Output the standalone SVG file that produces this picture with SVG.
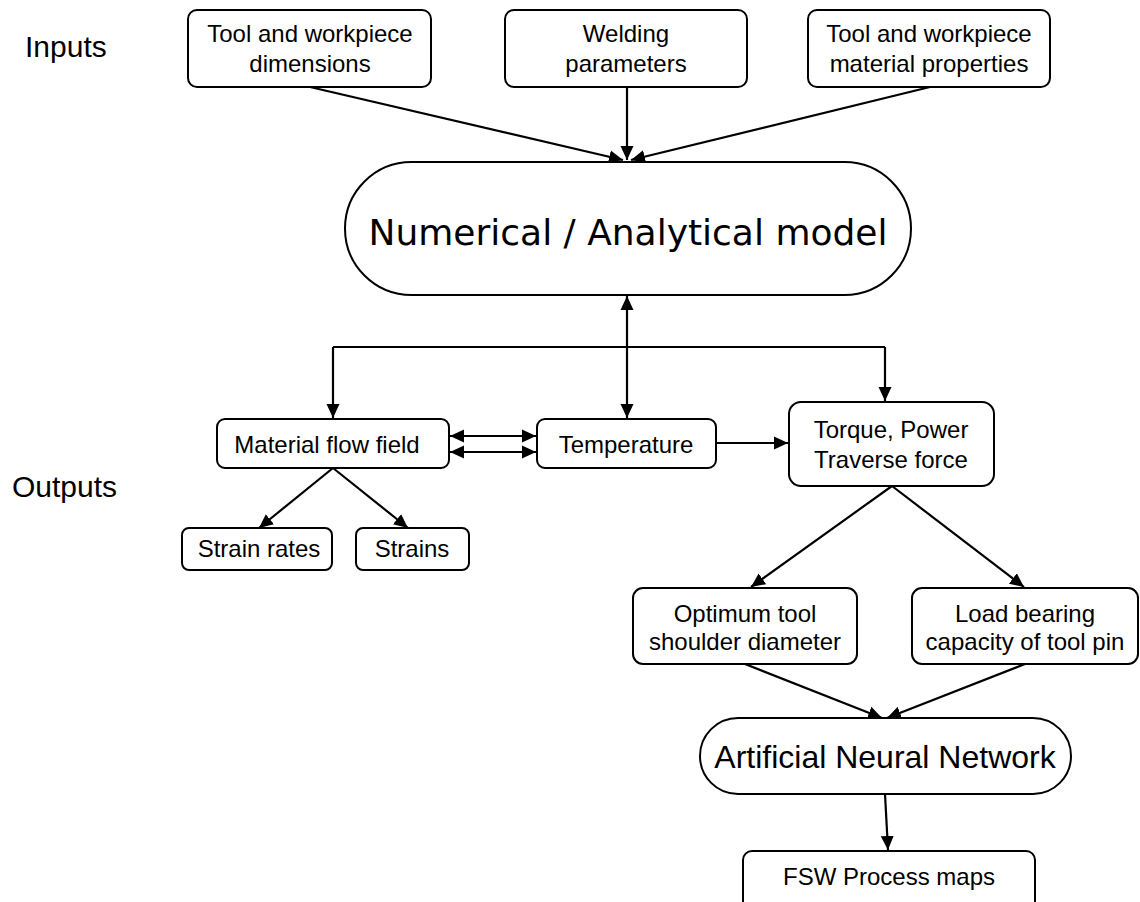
<svg xmlns="http://www.w3.org/2000/svg" width="1140" height="902" viewBox="0 0 1140 902">
<style>
.box{fill:#fff;stroke:#000;stroke-width:2}
.t{font-family:"Liberation Sans",Arial,sans-serif;font-size:24px;fill:#000;text-anchor:middle}
.lbl{font-family:"Liberation Sans",Arial,sans-serif;font-size:30px;fill:#000}
.big{font-family:"DejaVu Sans",Verdana,sans-serif;font-size:36px;fill:#000;text-anchor:middle}
.ann{font-family:"Liberation Sans",Arial,sans-serif;font-size:32px;fill:#000;text-anchor:middle}
.c{fill:none;stroke:#000;stroke-width:2.2}
</style>
<defs>
<marker id="ah" viewBox="0 0 14 14" refX="14" refY="7" markerWidth="14" markerHeight="14" markerUnits="userSpaceOnUse" orient="auto-start-reverse">
<path d="M0,0.5 L14,7 L0,13.5 Z" fill="#000"/>
</marker>
</defs>
<rect width="1140" height="902" fill="#fff"/>
<text class="lbl" x="25" y="57">Inputs</text>
<text class="lbl" x="12" y="497">Outputs</text>

<g id="connectors">
<path class="c" d="M310,87 L623,160" marker-end="url(#ah)"/>
<path class="c" d="M627,87 L627,160" marker-end="url(#ah)"/>
<path class="c" d="M930,87 L631,160" marker-end="url(#ah)"/>
<path class="c" d="M627,296 L627,418" marker-start="url(#ah)" marker-end="url(#ah)"/>
<path class="c" d="M333,347 L885,347"/>
<path class="c" d="M333,347 L333,418" marker-end="url(#ah)"/>
<path class="c" d="M885,347 L885,401" marker-end="url(#ah)"/>
<path class="c" d="M450,436 L536,436" marker-start="url(#ah)" marker-end="url(#ah)"/>
<path class="c" d="M450,452 L536,452" marker-start="url(#ah)" marker-end="url(#ah)"/>
<path class="c" d="M716,443 L788,443" marker-end="url(#ah)"/>
<path class="c" d="M333,468 L259,528" marker-end="url(#ah)"/>
<path class="c" d="M333,468 L408,528" marker-end="url(#ah)"/>
<path class="c" d="M892,486 L751,587" marker-end="url(#ah)"/>
<path class="c" d="M892,486 L1024,587" marker-end="url(#ah)"/>
<path class="c" d="M745,664 L882,718" marker-end="url(#ah)"/>
<path class="c" d="M1025,664 L887,718" marker-end="url(#ah)"/>
<path class="c" d="M885,794 L888,850" marker-end="url(#ah)"/>
</g>

<g id="n-dims">
<rect class="box" x="188" y="10" width="243" height="77" rx="9"/>
<text class="t" x="310" y="42">Tool and workpiece</text>
<text class="t" x="310" y="72">dimensions</text>
</g>
<g id="n-weld">
<rect class="box" x="505" y="10" width="242" height="77" rx="9"/>
<text class="t" x="626" y="42">Welding</text>
<text class="t" x="626" y="72">parameters</text>
</g>
<g id="n-mat">
<rect class="box" x="808" y="10" width="242" height="77" rx="9"/>
<text class="t" x="929" y="42">Tool and workpiece</text>
<text class="t" x="929" y="72">material properties</text>
</g>
<g id="n-model">
<rect class="box" x="345" y="162" width="566" height="133" rx="66.5"/>
<text class="big" x="628" y="245">Numerical / Analytical model</text>
</g>
<g id="n-flow">
<rect class="box" x="217" y="419" width="232" height="49" rx="8"/>
<text class="t" x="327" y="453">Material flow field</text>
</g>
<g id="n-temp">
<rect class="box" x="537" y="419" width="179" height="49" rx="8"/>
<text class="t" x="626" y="453">Temperature</text>
</g>
<g id="n-torque">
<rect class="box" x="789" y="402" width="205" height="84" rx="12"/>
<text class="t" x="891" y="438">Torque, Power</text>
<text class="t" x="891" y="468">Traverse force</text>
</g>
<g id="n-srates">
<rect class="box" x="182" y="528" width="150" height="42" rx="7"/>
<text class="t" x="259" y="557">Strain rates</text>
</g>
<g id="n-strains">
<rect class="box" x="356" y="528" width="113" height="42" rx="7"/>
<text class="t" x="412" y="557">Strains</text>
</g>
<g id="n-opt">
<rect class="box" x="633" y="588" width="224" height="76" rx="10"/>
<text class="t" x="745" y="622">Optimum tool</text>
<text class="t" x="745" y="650">shoulder diameter</text>
</g>
<g id="n-load">
<rect class="box" x="912" y="588" width="226" height="76" rx="10"/>
<text class="t" x="1025" y="622">Load bearing</text>
<text class="t" x="1025" y="650">capacity of tool pin</text>
</g>
<g id="n-ann">
<rect class="box" x="700" y="718" width="371" height="76" rx="38"/>
<text class="ann" x="885" y="768">Artificial Neural Network</text>
</g>
<g id="n-fsw">
<rect class="box" x="743" y="851" width="292" height="60" rx="9"/>
<text class="t" x="889" y="885">FSW Process maps</text>
</g>
</svg>
